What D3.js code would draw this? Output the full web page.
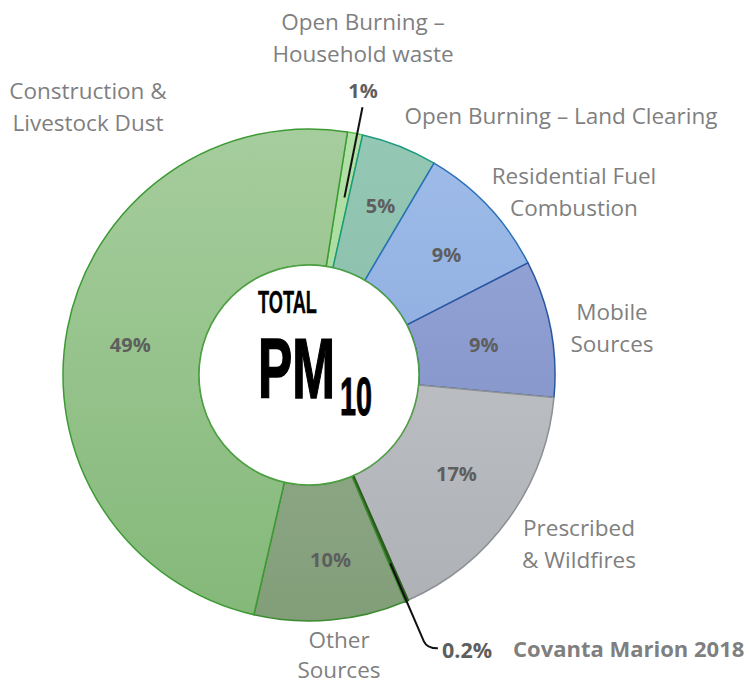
<!DOCTYPE html>
<html>
<head>
<meta charset="utf-8">
<script src="https://cdn.jsdelivr.net/npm/d3@7"></script>
<style>
  body { margin: 0; background: #fff; }
  svg { display: block; }
</style>
</head>
<body>
<div id="chart"></div>
<script>
// PM10 source shares (percent)
const categories = ["Household waste", "Land Clearing", "Residential Fuel", "Mobile", "Prescribed", "Covanta", "Other", "Construction"];
const shares = [1, 5, 9, 9, 17, 0.2, 10, 49];
const pctLabels = ["1%", "5%", "9%", "9%", "17%", "0.2%", "10%", "49%"];
const nameLines = [
    ["Open Burning –", "Household waste"],
    ["Open Burning – Land Clearing"],
    ["Residential Fuel", "Combustion"],
    ["Mobile", "Sources"],
    ["Prescribed", "& Wildfires"],
    ["Covanta Marion 2018"],
    ["Other", "Sources"],
    ["Construction &", "Livestock Dust"]
];
const fillTop = ["#b2e0a8", "#95c7b5", "#a0bde9", "#9cabda", "#c8cacd", "#2d6a22", "#a0b698", "#a6cd9d"];
const fillBottom = ["#9fd495", "#82b6a2", "#7ea0d8", "#7888c2", "#adb0b5", "#2d6a22", "#829e79", "#84b879"];
const strokes = ["#5cc04f", "#1a9b7e", "#2a6fb8", "#2a56a0", "#8d9094", "#2b5e1e", "#3b8a2f", "#3c9a33"];

const W = 749, H = 688;
const cx = 309, cy = 375, R = 246, r0 = 110;
const deg = Math.PI / 180;
const start = 9 * deg;

const svg = d3.select("#chart").append("svg")
    .attr("width", W)
    .attr("height", H);

const defs = svg.append("defs");
categories.forEach((c, i) => {
    const g = defs.append("linearGradient")
        .attr("id", "grad" + i)
        .attr("gradientUnits", "userSpaceOnUse")
        .attr("x1", 0).attr("x2", 0)
        .attr("y1", -R).attr("y2", R);
    g.append("stop").attr("offset", "0%").attr("stop-color", fillTop[i]);
    g.append("stop").attr("offset", "100%").attr("stop-color", fillBottom[i]);
});

const g = svg.append("g").attr("transform", `translate(${cx},${cy})`);

const pie = d3.pie()
    .sort(null)
    .value(d => d)
    .startAngle(start)
    .endAngle(start + 2 * Math.PI);

const arcs = pie(shares);

const arc = d3.arc().innerRadius(r0).outerRadius(R);
const labelArc = d3.arc().innerRadius(178).outerRadius(178);

g.selectAll(".slice")
    .data(arcs)
    .enter().append("path")
    .attr("class", "slice")
    .attr("d", arc)
    .attr("fill", (d, i) => `url(#grad${i})`)
    .attr("stroke", (d, i) => strokes[i])
    .attr("stroke-width", (d, i) => i === 5 ? 2.5 : 1.5)
    .attr("stroke-linejoin", "round");

// inner white disc
g.append("circle")
    .attr("r", r0)
    .attr("fill", "#fff")
    .attr("stroke", "#4ea044")
    .attr("stroke-width", 1.5);

// percentage labels inside the ring
const inside = [1, 2, 3, 4, 6, 7];
const nudge = { 1: [6, -4], 2: [8, 2], 3: [0, 3], 4: [3, -6], 6: [6, 7], 7: [-4, 3] };
g.selectAll(".pct")
    .data(inside)
    .enter().append("text")
    .attr("class", "pct")
    .attr("x", i => labelArc.centroid(arcs[i])[0] + nudge[i][0])
    .attr("y", i => labelArc.centroid(arcs[i])[1] + nudge[i][1])
    .attr("text-anchor", "middle")
    .attr("dominant-baseline", "central")
    .attr("font-family", "'Open Sans', sans-serif")
    .attr("font-weight", "bold")
    .attr("font-size", 20)
    .attr("fill", "#5e5e5e")
    .text(i => pctLabels[i]);

// leader for the 1% slice
const mid0 = (arcs[0].startAngle + arcs[0].endAngle) / 2;
const polar = (a, rr) => [rr * Math.sin(a), -rr * Math.cos(a)];
g.append("line")
    .attr("x1", polar(mid0 + 0.5 * deg, 181)[0])
    .attr("y1", polar(mid0 + 0.5 * deg, 181)[1])
    .attr("x2", polar(mid0 + 0.5 * deg, 273)[0])
    .attr("y2", polar(mid0 + 0.5 * deg, 273)[1])
    .attr("stroke", "#111")
    .attr("stroke-width", 2);

// leader for the Covanta slice
const mid5 = (arcs[5].startAngle + arcs[5].endAngle) / 2;
const p1 = polar(mid5, 205), p2 = polar(mid5, 290);
g.append("path")
    .attr("d", `M${p1[0]},${p1[1]} L${p2[0]},${p2[1]} Q${p2[0] + 3},${p2[1] + 7} ${p2[0] + 14},${p2[1] + 7}`)
    .attr("fill", "none")
    .attr("stroke", "#111")
    .attr("stroke-width", 2);

// outside category labels
const outPos = [[363, 21], [561, 115], [574, 175], [612, 311], [579, 527], null, [339, 639], [88, 90]];
const labelFont = "'Open Sans', sans-serif";
outPos.forEach((p, i) => {
    if (!p) return;
    const t = svg.append("text")
        .attr("x", p[0])
        .attr("y", p[1])
        .attr("text-anchor", "middle")
        .attr("dominant-baseline", "central")
        .attr("font-family", labelFont)
        .attr("font-size", 22.5)
        .attr("fill", "#7f7f7f");
    nameLines[i].forEach((line, k) => {
        t.append("tspan")
            .attr("x", p[0])
            .attr("dy", k === 0 ? 0 : (i === 6 ? 30 : 32))
            .text(line);
    });
});

// 1% label
svg.append("text")
    .attr("x", 363).attr("y", 90)
    .attr("text-anchor", "middle")
    .attr("dominant-baseline", "central")
    .attr("font-family", labelFont)
    .attr("font-weight", "bold")
    .attr("font-size", 20)
    .attr("fill", "#5e5e5e")
    .text(pctLabels[0]);

// Covanta label
svg.append("text")
    .attr("x", 442).attr("y", 649)
    .attr("dominant-baseline", "central")
    .attr("font-family", labelFont)
    .attr("font-weight", "bold")
    .attr("font-size", 21.5)
    .attr("fill", "#5e5e5e")
    .text(pctLabels[5]);
svg.append("text")
    .attr("x", 513).attr("y", 648)
    .attr("dominant-baseline", "central")
    .attr("font-family", labelFont)
    .attr("font-weight", "bold")
    .attr("font-size", 22)
    .attr("fill", "#7f7f7f")
    .text(nameLines[5][0]);

// centre title, squeezed horizontally to a condensed look
function squeezed(txt, x, y, size, width, sw) {
    const t = svg.append("text")
        .attr("font-family", "'Liberation Sans', Arial, sans-serif")
        .attr("font-weight", "bold")
        .attr("font-size", size)
        .attr("fill", "#000")
        .attr("stroke", "#000")
        .attr("stroke-width", sw)
        .text(txt);
    const len = t.node().getComputedTextLength();
    t.attr("transform", `translate(${x},${y}) scale(${width / len},1)`);
}
squeezed("TOTAL", 258, 313, 32, 59, 0.4);
squeezed("PM", 258, 398, 86, 77, 1.6);
squeezed("10", 340, 415, 53, 32, 1);
</script>
</body>
</html>
